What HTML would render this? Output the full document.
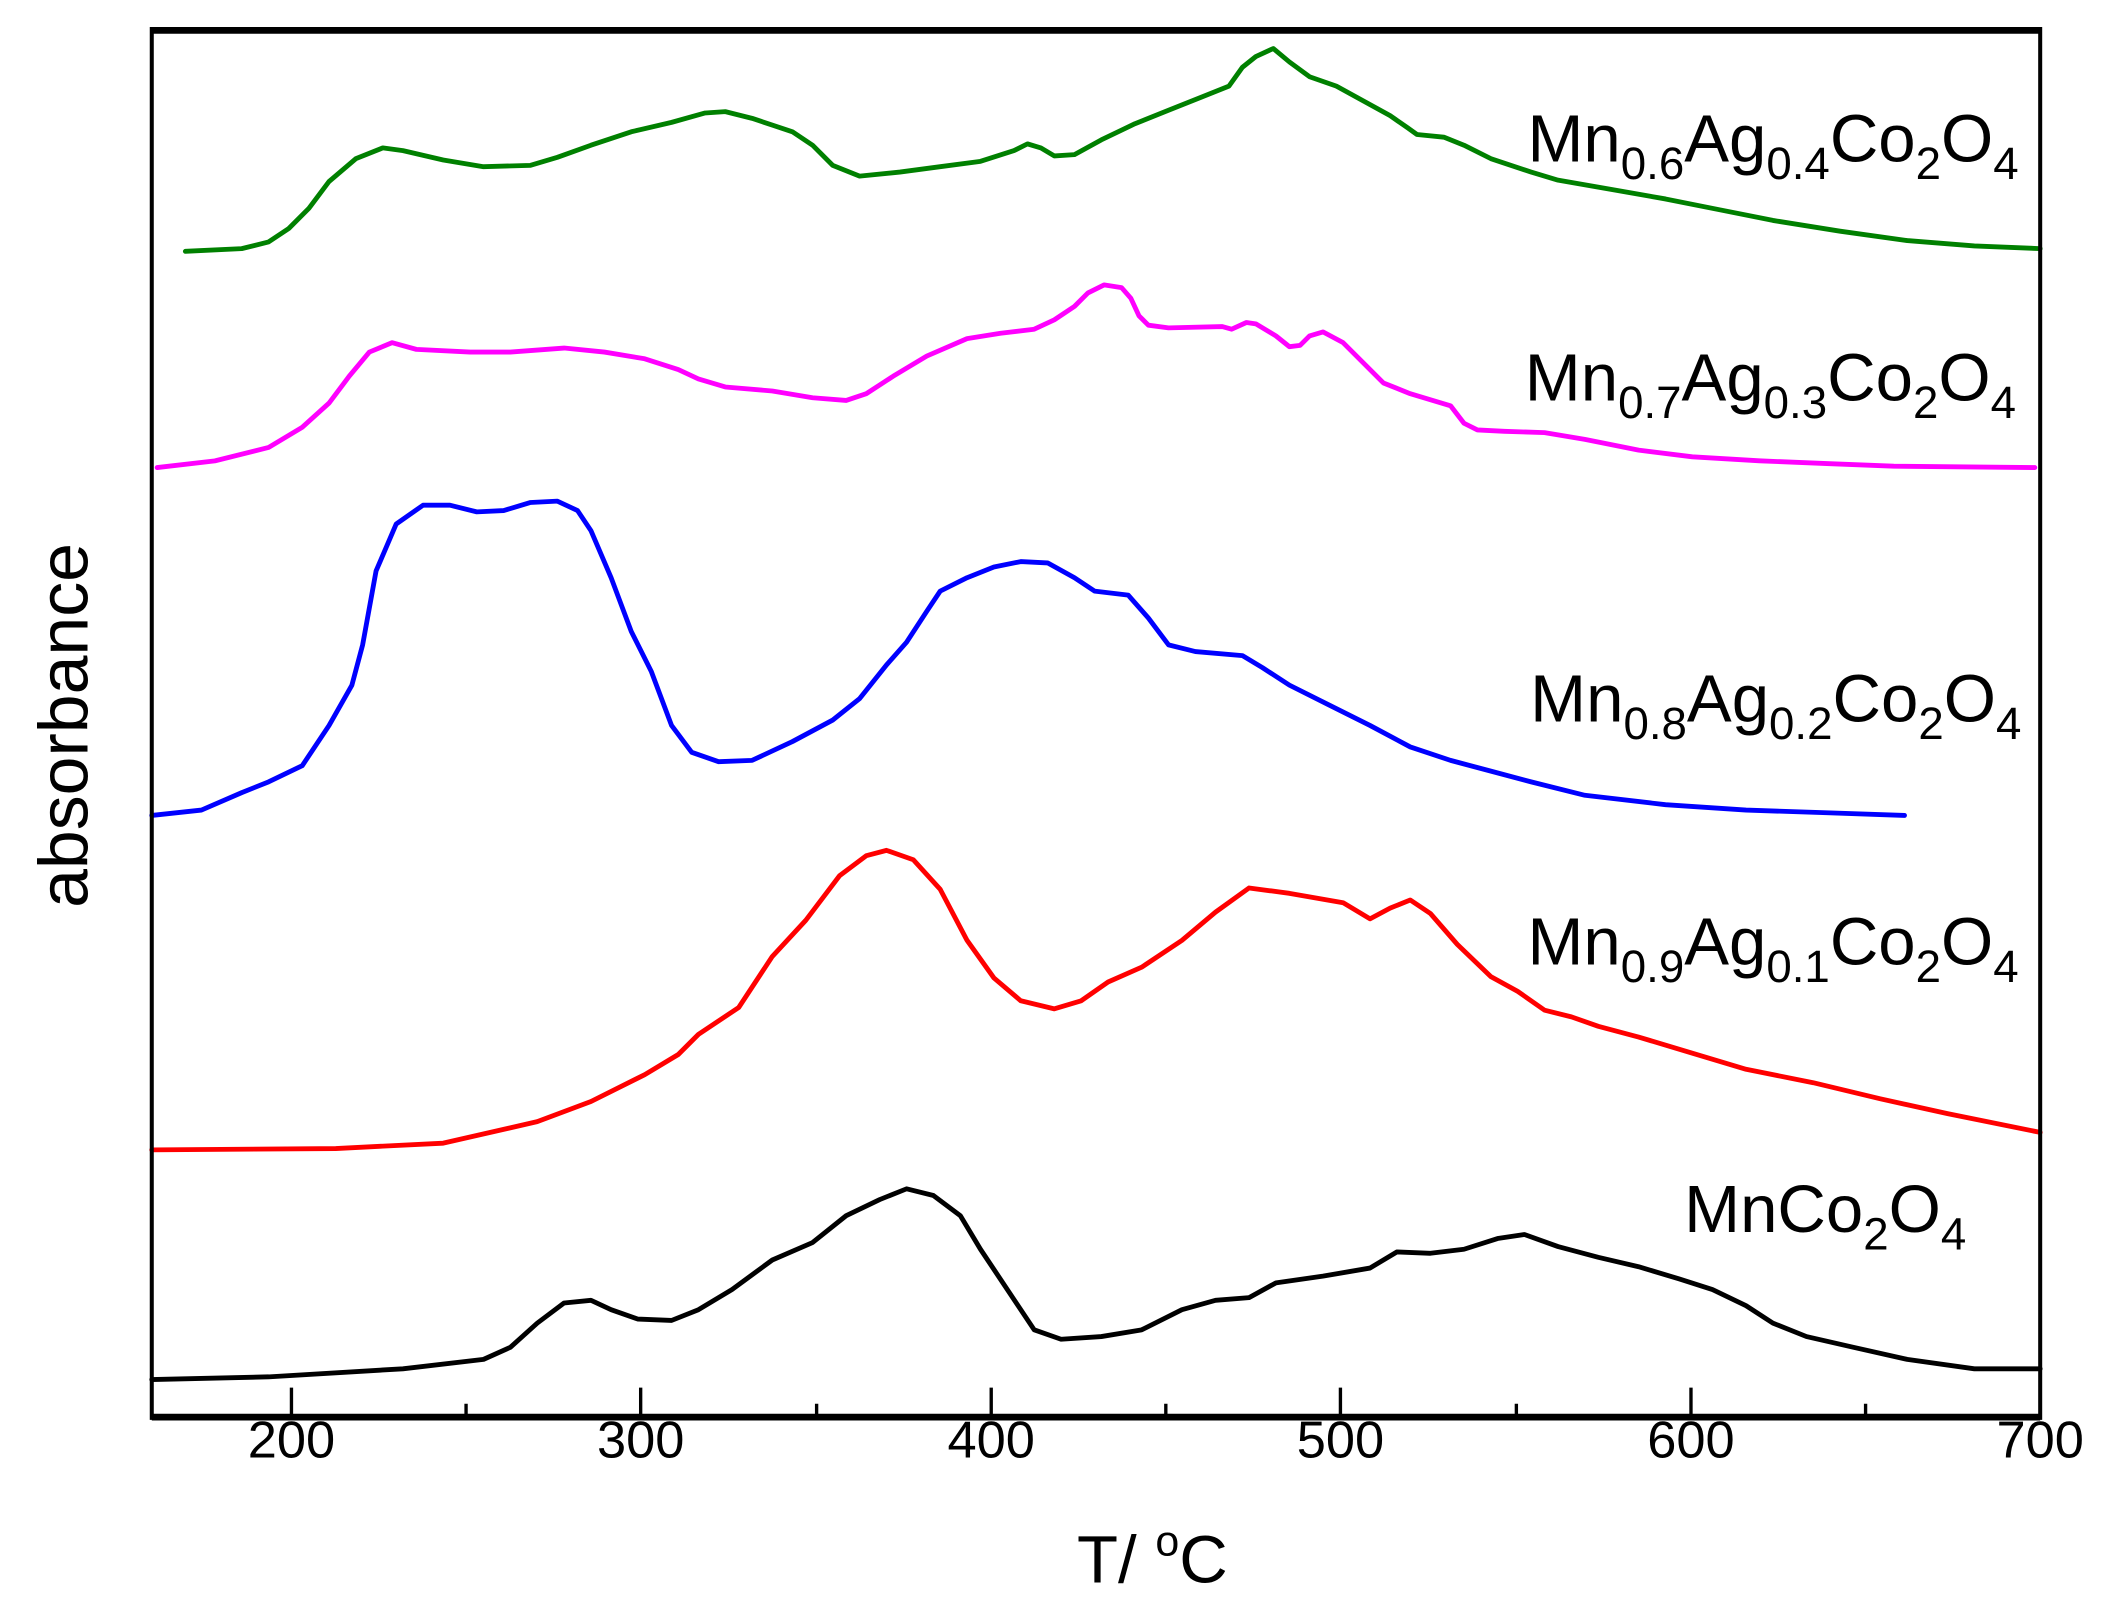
<!DOCTYPE html>
<html><head><meta charset="utf-8"><style>html,body{margin:0;padding:0;background:#fff}svg{display:block}</style></head>
<body>
<svg width="2106" height="1604" viewBox="0 0 1568 1194" xmlns="http://www.w3.org/2000/svg" font-family="Liberation Sans, Arial, sans-serif">
<rect width="1568" height="1194" fill="#fff"/>
<g fill="none" stroke-width="3.6" stroke-linejoin="round" stroke-linecap="round">
<polyline stroke="#000" points="113,1027 200,1025 300,1019 360,1012 380,1003 400,985 420,970 440,968 455,975 475,982 500,983 520,975 545,960 575,938 605,925 630,905 655,893 675,885 695,890 715,905 730,930 750,960 770,990 790,997 820,995 850,990 880,975 905,968 930,966 950,955 985,950 1020,944 1040,932 1065,933 1090,930 1115,922 1135,919 1160,928 1190,936 1220,943 1250,952 1275,960 1300,972 1320,985 1345,995 1380,1003 1420,1012 1470,1019 1519,1019"/>
<polyline stroke="#f00" points="113,856 250,855 330,851 400,835 440,820 480,800 505,785 520,770 550,750 575,712 600,685 625,652 645,637 660,633 680,640 700,662 720,700 740,728 760,745 785,751 805,745 825,731 850,720 880,700 905,679 930,661 960,665 1000,672 1020,684 1035,676 1050,670 1065,680 1085,703 1110,727 1130,738 1150,752 1170,757 1190,764 1220,772 1260,784 1300,796 1350,806 1400,818 1450,829 1519,843"/>
<polyline stroke="#00f" points="113,607 150,603 180,590 200,582 225,570 245,540 262,510 270,480 280,425 295,390 315,376 335,376 355,381 375,380 395,374 415,373 430,380 440,395 455,430 470,470 485,500 500,540 515,560 535,567 560,566 590,552 620,536 640,520 660,495 675,478 690,455 700,440 720,430 740,422 760,418 780,419 800,430 815,440 840,443 855,460 870,480 890,485 925,488 940,497 960,510 990,525 1020,540 1050,556 1080,566 1110,574 1140,582 1180,592 1240,599 1300,603 1360,605 1418,607"/>
<polyline stroke="#f0f" points="117,348 160,343 200,333 225,318 245,300 260,280 275,262 292,255 310,260 350,262 380,262 420,259 450,262 480,267 505,275 520,282 540,288 575,291 605,296 630,298 645,293 665,280 690,265 720,252 745,248 770,245 785,238 800,228 810,218 822,212 835,214 842,222 848,235 855,242 870,244 910,243 917,245 928,240 935,241 950,250 960,258 968,257 975,250 985,247 1000,255 1015,270 1030,285 1050,293 1080,302 1090,315 1100,320 1120,321 1150,322 1180,327 1220,335 1260,340 1310,343 1360,345 1410,347 1515,348"/>
<polyline stroke="#008000" points="138,187 180,185 200,180 215,170 230,155 245,135 265,118 285,110 300,112 330,119 360,124 395,123 415,117 440,108 470,98 500,91 525,84 540,83 560,88 590,98 605,108 620,123 640,131 670,128 700,124 730,120 755,112 765,107 775,110 785,116 800,115 820,104 845,92 870,82 895,72 915,64 925,50 935,42 948,36 960,46 975,57 995,64 1015,75 1035,86 1048,95 1055,100 1075,102 1090,108 1110,118 1140,128 1160,134 1200,141 1240,148 1280,156 1320,164 1370,172 1420,179 1470,183 1519,185"/>
</g>
<g stroke="#000" fill="none">
<line x1="113" y1="22.5" x2="1519" y2="22.5" stroke-width="5"/>
<line x1="113" y1="1055" x2="1519" y2="1055" stroke-width="5"/>
<line x1="113" y1="20" x2="113" y2="1057" stroke-width="3"/>
<line x1="1519" y1="20" x2="1519" y2="1057" stroke-width="3"/>
<g stroke-width="2.5">
<path d="M217,1055V1033M477,1055V1033M738,1055V1033M998,1055V1033M1259,1055V1033M347,1055V1045M608,1055V1045M868,1055V1045M1129,1055V1045M1389,1055V1045"/>
</g>
</g>
<g font-size="39" text-anchor="middle" fill="#000">
<text x="217" y="1085">200</text><text x="477" y="1085">300</text><text x="738" y="1085">400</text><text x="998" y="1085">500</text><text x="1259" y="1085">600</text><text x="1519" y="1085">700</text>
</g>
<text x="858" y="1178" font-size="50" text-anchor="middle">T/ <tspan font-size="32" dy="-20">o</tspan><tspan dy="20">C</tspan></text>
<text transform="translate(65,540) rotate(-90)" font-size="52" text-anchor="middle">absorbance</text>
<g font-size="50" fill="#000" text-anchor="end">
<text x="1503" y="120">Mn<tspan font-size="34" dy="13">0.6</tspan><tspan dy="-13">Ag</tspan><tspan font-size="34" dy="13">0.4</tspan><tspan dy="-13">Co</tspan><tspan font-size="34" dy="13">2</tspan><tspan dy="-13">O</tspan><tspan font-size="34" dy="13">4</tspan></text>
<text x="1501" y="298">Mn<tspan font-size="34" dy="13">0.7</tspan><tspan dy="-13">Ag</tspan><tspan font-size="34" dy="13">0.3</tspan><tspan dy="-13">Co</tspan><tspan font-size="34" dy="13">2</tspan><tspan dy="-13">O</tspan><tspan font-size="34" dy="13">4</tspan></text>
<text x="1505" y="537">Mn<tspan font-size="34" dy="13">0.8</tspan><tspan dy="-13">Ag</tspan><tspan font-size="34" dy="13">0.2</tspan><tspan dy="-13">Co</tspan><tspan font-size="34" dy="13">2</tspan><tspan dy="-13">O</tspan><tspan font-size="34" dy="13">4</tspan></text>
<text x="1503" y="718">Mn<tspan font-size="34" dy="13">0.9</tspan><tspan dy="-13">Ag</tspan><tspan font-size="34" dy="13">0.1</tspan><tspan dy="-13">Co</tspan><tspan font-size="34" dy="13">2</tspan><tspan dy="-13">O</tspan><tspan font-size="34" dy="13">4</tspan></text>
<text x="1464" y="917">MnCo<tspan font-size="34" dy="13">2</tspan><tspan dy="-13">O</tspan><tspan font-size="34" dy="13">4</tspan></text>
</g>
</svg>
</body></html>
